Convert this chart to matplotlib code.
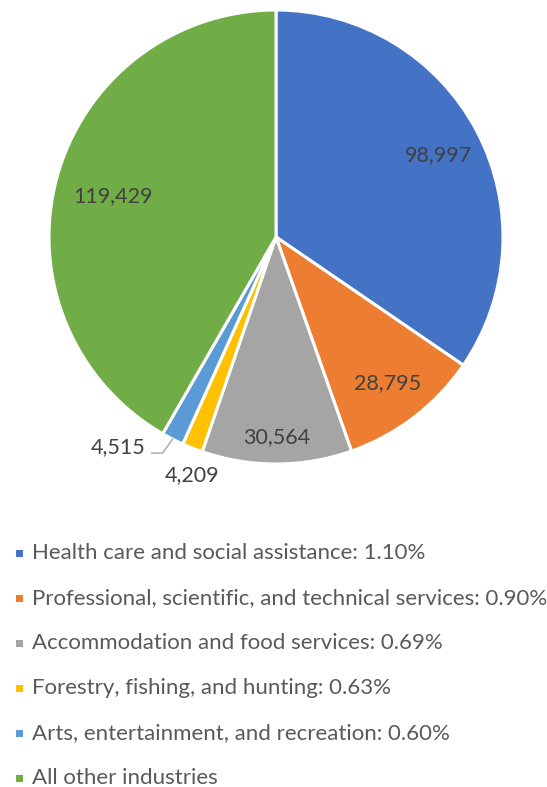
import matplotlib
matplotlib.use("Agg")
import matplotlib.pyplot as plt
from matplotlib.patches import Rectangle
import numpy as np

plt.rcParams['font.family'] = ['Lato', 'DejaVu Sans']

categories = [
    "Health care and social assistance",
    "Professional, scientific, and technical services",
    "Accommodation and food services",
    "Forestry, fishing, and hunting",
    "Arts, entertainment, and recreation",
    "All other industries",
]
values = [98997, 28795, 30564, 4209, 4515, 119429]
rates = ["1.10%", "0.90%", "0.69%", "0.63%", "0.60%", None]
colors = ["#4472C4", "#ED7D31", "#A5A5A5", "#FFC000", "#5B9BD5", "#70AD47"]

# radial position of each value label (fraction of radius) and angular nudge
label_r = [0.80, 0.81, 0.88, 1.11, 1.0, 0.74]
label_dang = [-1.0, 0.0, 0.0, 2.2, 0.0, 0.8]

W, H = 547, 787
fig = plt.figure(figsize=(W / 100, H / 100), dpi=100)

cx, cy, R = 276, 237, 227
ax = fig.add_axes([(cx - R) / W, (H - cy - R) / H, 2 * R / W, 2 * R / H])
wedges, _ = ax.pie(values, colors=colors, startangle=90, counterclock=False,
                   radius=1.0,
                   wedgeprops=dict(edgecolor="white", linewidth=2.2))
ax.set_xlim(-1, 1)
ax.set_ylim(-1, 1)
ax.set_aspect("equal")
ax.axis("off")

txt_color = "#404040"
fs_lab = 15.5
fs_leg = 16
for i, (w, v) in enumerate(zip(wedges, values)):
    mid = np.deg2rad((w.theta1 + w.theta2) / 2 + label_dang[i])
    r = label_r[i]
    x, y = r * np.cos(mid), r * np.sin(mid)
    s = f"{v:,}"
    if i == 4:
        # small slice: label pulled out with a leader line
        elbow = (x - 0.044, -0.952)
        end = (elbow[0] - 0.048, -0.952)
        ax.plot([x, elbow[0], end[0]], [y, elbow[1], end[1]],
                color="#A6A6A6", lw=1.0, clip_on=False, solid_joinstyle="miter")
        ax.text(end[0] - 0.026, -0.925, s, ha="right", va="center",
                fontsize=fs_lab, color=txt_color, clip_on=False)
    else:
        ax.text(x, y, s, ha="center", va="center", fontsize=fs_lab,
                color=txt_color, clip_on=False)

# legend
ys = [553, 598, 643, 688, 733, 778]
for cat, rate, col, yp in zip(categories, rates, colors, ys):
    label = f"{cat}: {rate}" if rate else cat
    fig.patches.append(Rectangle((16 / W, (H - yp - 3.5) / H), 6.5 / W, 6.5 / H,
                                 transform=fig.transFigure, facecolor=col,
                                 edgecolor="none"))
    fig.text(32 / W, (H - yp) / H, label, ha="left", va="center",
             fontsize=fs_leg, color="#595959")

fig.savefig("out.png", dpi=100)
